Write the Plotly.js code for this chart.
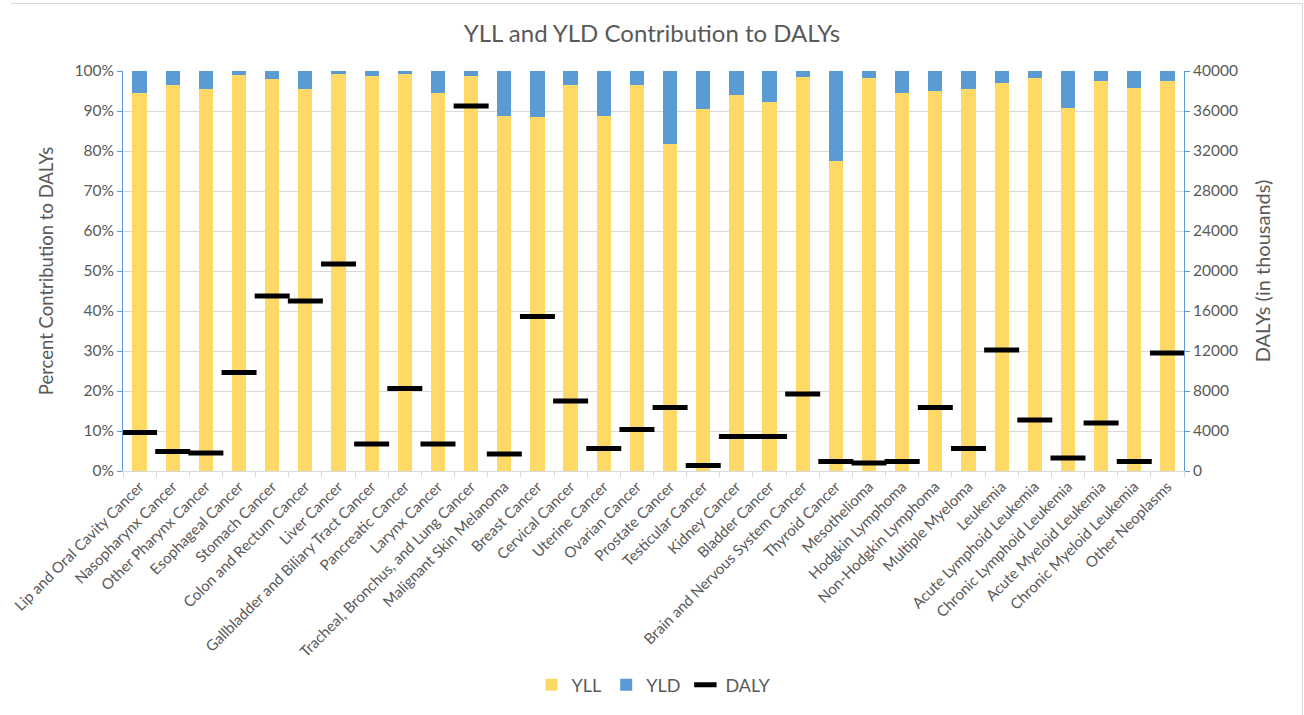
<!DOCTYPE html>
<html>
<head>
<meta charset="utf-8">
<script src="https://cdn.plot.ly/plotly-3.0.1.min.js"></script>
<style>
  html, body { margin: 0; padding: 0; background: #fff; }
  #wrap { position: relative; width: 1304px; height: 715px; overflow: hidden; }
  #chart { position: absolute; left: 0; top: 0; width: 1304px; height: 715px; }
  #frame { position: absolute; left: 11px; top: 3px; width: 1291px; height: 720px;
           border-top: 1px solid #D9D9D9; border-right: 1px solid #D9D9D9; pointer-events: none; }
</style>
</head>
<body>
<div id="wrap">
  <div id="chart"></div>
  <div id="frame"></div>
</div>
<script>
const categories = [
  "Lip and Oral Cavity Cancer", "Nasopharynx Cancer", "Other Pharynx Cancer", "Esophageal Cancer",
  "Stomach Cancer", "Colon and Rectum Cancer", "Liver Cancer", "Gallbladder and Biliary Tract Cancer",
  "Pancreatic Cancer", "Larynx Cancer", "Tracheal, Bronchus, and Lung Cancer", "Malignant Skin Melanoma",
  "Breast Cancer", "Cervical Cancer", "Uterine Cancer", "Ovarian Cancer", "Prostate Cancer",
  "Testicular Cancer", "Kidney Cancer", "Bladder Cancer", "Brain and Nervous System Cancer",
  "Thyroid Cancer", "Mesothelioma", "Hodgkin Lymphoma", "Non-Hodgkin Lymphoma", "Multiple Myeloma",
  "Leukemia", "Acute Lymphoid Leukemia", "Chronic Lymphoid Leukemia", "Acute Myeloid Leukemia",
  "Chronic Myeloid Leukemia", "Other Neoplasms"
];

// share of DALYs from years of life lost (fraction)
const yllShare = [
  0.946, 0.965, 0.955, 0.989, 0.979, 0.956, 0.993, 0.988,
  0.992, 0.945, 0.988, 0.888, 0.884, 0.964, 0.888, 0.965,
  0.818, 0.906, 0.941, 0.922, 0.984, 0.776, 0.983, 0.944,
  0.951, 0.954, 0.969, 0.982, 0.907, 0.976, 0.957, 0.974
];

// share of DALYs from years lived with disability (fraction)
const yldShare = [
  0.054, 0.035, 0.045, 0.011, 0.021, 0.044, 0.007, 0.012,
  0.008, 0.055, 0.012, 0.112, 0.116, 0.036, 0.112, 0.035,
  0.182, 0.094, 0.059, 0.078, 0.016, 0.224, 0.017, 0.056,
  0.049, 0.046, 0.031, 0.018, 0.093, 0.024, 0.043, 0.026
];

// total DALYs (in thousands)
const dalys = [
  3850, 1950, 1800, 9850, 17500, 17000, 20700, 2700,
  8250, 2700, 36500, 1700, 15450, 7000, 2250, 4150,
  6350, 550, 3450, 3450, 7700, 950, 800, 950,
  6350, 2250, 12100, 5100, 1300, 4800, 950, 11800
];

const pctTicks = [0, 0.1, 0.2, 0.3, 0.4, 0.5, 0.6, 0.7, 0.8, 0.9, 1];
const pctLabels = ["0%", "10%", "20%", "30%", "40%", "50%", "60%", "70%", "80%", "90%", "100%"];
const dalyTicks = [0, 4000, 8000, 12000, 16000, 20000, 24000, 28000, 32000, 36000, 40000];
const dalyLabels = ["0", "4000", "8000", "12000", "16000", "20000", "24000", "28000", "32000", "36000", "40000"];

const FONT = "Lato, 'Open Sans', sans-serif";
const GRAY = "#595959";
const BLUE = "#5B9BD5";
const GOLD = "#FFD966";

const traces = [
  { type: "bar", name: "YLL", x: categories, y: yllShare, marker: { color: GOLD }, yaxis: "y" },
  { type: "bar", name: "YLD", x: categories, y: yldShare, marker: { color: BLUE }, yaxis: "y" },
  { type: "scatter", mode: "markers", name: "DALY", x: categories, y: dalys, yaxis: "y2",
    marker: { symbol: "line-ew", size: 25, color: "#000", line: { width: 5, color: "#000" } } }
];

const layout = {
  width: 1304, height: 715,
  margin: { l: 123, r: 120, t: 71, b: 240 },
  paper_bgcolor: "#fff", plot_bgcolor: "#fff",
  font: { family: FONT, color: GRAY },
  barmode: "stack",
  bargap: 0.57,
  showlegend: true,
  title: { text: "YLL and YLD Contribution to DALYs", font: { size: 24, color: GRAY, family: FONT },
           x: 0.5, xanchor: "center", y: 0.953, yanchor: "middle", yref: "container" },
  xaxis: {
    type: "category", range: [-0.5, categories.length - 0.5], autorange: false,
    tickangle: -45, tickfont: { size: 15, color: GRAY },
    showline: true, linecolor: "#D9D9D9", linewidth: 1,
    ticks: "outside", tickson: "boundaries", ticklen: 5, tickcolor: "#D9D9D9",
    showgrid: false, zeroline: false, automargin: false
  },
  yaxis: {
    range: [0, 1], autorange: false, tickvals: pctTicks, ticktext: pctLabels,
    tickfont: { size: 15.5, color: GRAY },
    showline: true, linecolor: BLUE, linewidth: 1,
    ticks: "outside", ticklen: 5, tickcolor: BLUE,
    showgrid: true, gridcolor: "#D9D9D9", gridwidth: 1, zeroline: false,
    title: { text: "Percent Contribution to DALYs", font: { size: 18.5, color: GRAY }, standoff: 16 },
    automargin: false
  },
  yaxis2: {
    overlaying: "y", side: "right", range: [0, 40000], autorange: false,
    tickvals: dalyTicks, ticktext: dalyLabels,
    tickfont: { size: 15.5, color: GRAY },
    showline: true, linecolor: BLUE, linewidth: 1,
    ticks: "outside", ticklen: 5, tickcolor: BLUE,
    showgrid: false, zeroline: false,
    title: { text: "DALYs (in thousands)", font: { size: 20, color: GRAY }, standoff: 18 },
    automargin: false
  },
  yaxis3: {
    overlaying: "y", side: "left", anchor: "x", range: [0, 1], tickvals: pctTicks,
    showticklabels: false, ticks: "inside", ticklen: 4, tickcolor: BLUE,
    showline: false, showgrid: false, zeroline: false
  },
  yaxis4: {
    overlaying: "y", side: "right", anchor: "x", range: [0, 40000], tickvals: dalyTicks,
    showticklabels: false, ticks: "inside", ticklen: 4, tickcolor: BLUE,
    showline: false, showgrid: false, zeroline: false
  },
  legend: {
    orientation: "h", x: 0.5, xanchor: "center", y: -0.535, yanchor: "middle",
    traceorder: "normal", font: { size: 18, color: GRAY }, itemwidth: 30
  }
};

Plotly.newPlot("chart", traces, layout, { staticPlot: true, displayModeBar: false });
</script>
</body>
</html>
